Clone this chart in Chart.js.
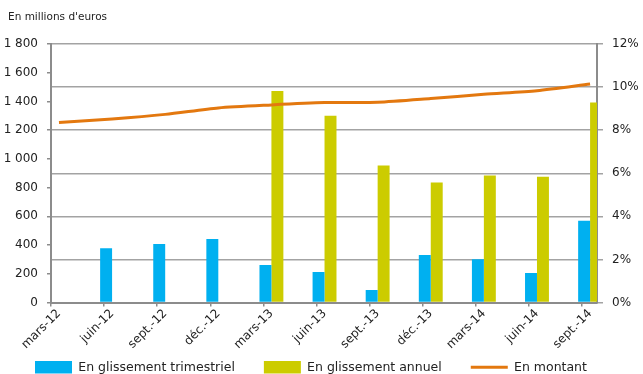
<!DOCTYPE html>
<html lang="fr">
<head>
<meta charset="utf-8">
<title>Encours trimestriels</title>
<script src="https://cdn.jsdelivr.net/npm/chart.js@4/dist/chart.umd.min.js"></script>
<style>
  html, body { margin: 0; padding: 0; background: #fff; overflow: hidden; }
  canvas { display: block; }
</style>
</head>
<body>
<canvas id="graphe" width="643" height="374"></canvas>
<script>
// donnees
const trimestres = ['mars-12', 'juin-12', 'sept.-12', 'déc.-12', 'mars-13', 'juin-13',
                    'sept.-13', 'déc.-13', 'mars-14', 'juin-14', 'sept.-14'];
const glissTrim   = [null, 2.52, 2.71, 2.95, 1.74, 1.42, 0.58, 2.21, 2.01, 1.37, 3.80];
const glissAnnuel = [null, null, null, null, 9.82, 8.67, 6.36, 5.57, 5.90, 5.84, 9.28];
const montant     = [1254, 1278, 1310, 1355, 1376, 1392, 1394, 1420, 1450, 1475, 1521];
const ticksMontant = [0, 200, 400, 600, 800, 1000, 1200, 1400, 1600, 1800];
const ticksPct     = [0, 2, 4, 6, 8, 10, 12];

const gris = '#8c8c8c';
const grille = '#a3a3a3';
const police = { family: 'DejaVu Sans', size: 12 };

function points(serie) {
  return serie.map((v, i) => ({ x: i, y: v }));
}

// titre de l'axe gauche
const titreAxe = {
  id: 'titreAxe',
  afterDraw(chart) {
    const ctx = chart.ctx;
    ctx.save();
    ctx.font = '10.5px "DejaVu Sans"';
    ctx.fillStyle = '#222';
    ctx.textBaseline = 'middle';
    ctx.fillText("En millions d'euros", 8, 17);
    ctx.restore();
  }
};

// la legende garde un grand espacement entre items : on agrandit sa boite vers le haut
// et on la cale a gauche
const legendeBas = {
  id: 'legendeBas',
  afterLayout(chart) {
    const lg = chart.legend;
    const pad = lg.options.labels.padding;
    lg.top -= pad;
    lg.left = 35 - pad;
  }
};

const graph = document.getElementById('graphe');

new Chart(graph, {
  data: {
    datasets: [{
      type: 'bar',
      label: 'En glissement trimestriel',
      data: points(glissTrim),
      backgroundColor: '#00b0f0',
      yAxisID: 'y1',
      order: 1
    }, {
      type: 'bar',
      label: 'En glissement annuel',
      data: points(glissAnnuel),
      backgroundColor: '#cccc00',
      yAxisID: 'y1',
      order: 1
    }, {
      type: 'line',
      label: 'En montant',
      data: points(montant),
      borderColor: '#e3780f',
      backgroundColor: '#e3780f',
      borderWidth: 3,
      pointRadius: 0,
      tension: 0.25,
      yAxisID: 'y',
      order: 0
    }]
  },
  options: {
    responsive: false,
    animation: false,
    devicePixelRatio: 1,
    categoryPercentage: 0.45,
    barPercentage: 1,
    layout: { padding: { top: 44, left: 0, right: 0, bottom: 0 } },
    plugins: {
      tooltip: { enabled: false },
      legend: {
        position: 'bottom',
        align: 'start',
        maxHeight: 13,
        labels: {
          usePointStyle: true,
          pointStyleWidth: 37,
          boxHeight: 13,
          padding: 29,
          color: '#222',
          font: { family: 'DejaVu Sans', size: 12.5 },
          sort: (a, b) => a.datasetIndex - b.datasetIndex,
          generateLabels(chart) {
            const items = Chart.defaults.plugins.legend.labels.generateLabels(chart);
            items.forEach(it => {
              const ds = chart.data.datasets[it.datasetIndex];
              if (ds.type === 'line') {
                it.pointStyle = 'line';
                it.lineWidth = 3;
                it.strokeStyle = ds.borderColor;
              } else {
                it.pointStyle = 'rect';
                it.lineWidth = 0;
              }
            });
            return items;
          }
        }
      }
    },
    scales: {
      x: {
        type: 'linear',
        offset: false,
        min: -0.15,
        max: 10.13,
        afterBuildTicks: s => { s.ticks = trimestres.map((_, i) => ({ value: i - 0.15 })); },
        afterFit: s => { s.height = 58.5; },
        ticks: {
          autoSkip: false,
          minRotation: 45,
          maxRotation: 45,
          labelOffset: 8,
          padding: 0,
          color: '#222',
          font: police,
          callback: (v, i) => trimestres[i]
        },
        grid: { offset: false, drawOnChartArea: false, tickLength: 4, color: gris, lineWidth: 1.5 },
        border: { display: true, color: gris, width: 2 }
      },
      y: {
        position: 'left',
        min: 0,
        max: 1800,
        afterBuildTicks: s => { s.ticks = ticksMontant.map(v => ({ value: v })); },
        afterFit: s => { s.width = 51; },
        ticks: {
          color: '#222',
          font: police,
          padding: 9,
          callback: v => v >= 1000 ? Math.floor(v / 1000) + ' ' + String(v % 1000).padStart(3, '0') : String(v)
        },
        grid: { drawOnChartArea: false, tickLength: 4, color: gris, lineWidth: 1.5 },
        border: { display: true, color: gris, width: 2 }
      },
      y1: {
        position: 'right',
        min: 0,
        max: 12,
        afterBuildTicks: s => { s.ticks = ticksPct.map(v => ({ value: v })); },
        afterFit: s => { s.width = 46; },
        ticks: {
          color: '#222',
          font: police,
          padding: 9,
          callback: v => v + '%'
        },
        grid: { color: grille, lineWidth: 1.5, tickLength: 6 },
        border: { display: true, color: gris, width: 2 }
      }
    }
  },
  plugins: [titreAxe, legendeBas]
});
</script>
</body>
</html>
